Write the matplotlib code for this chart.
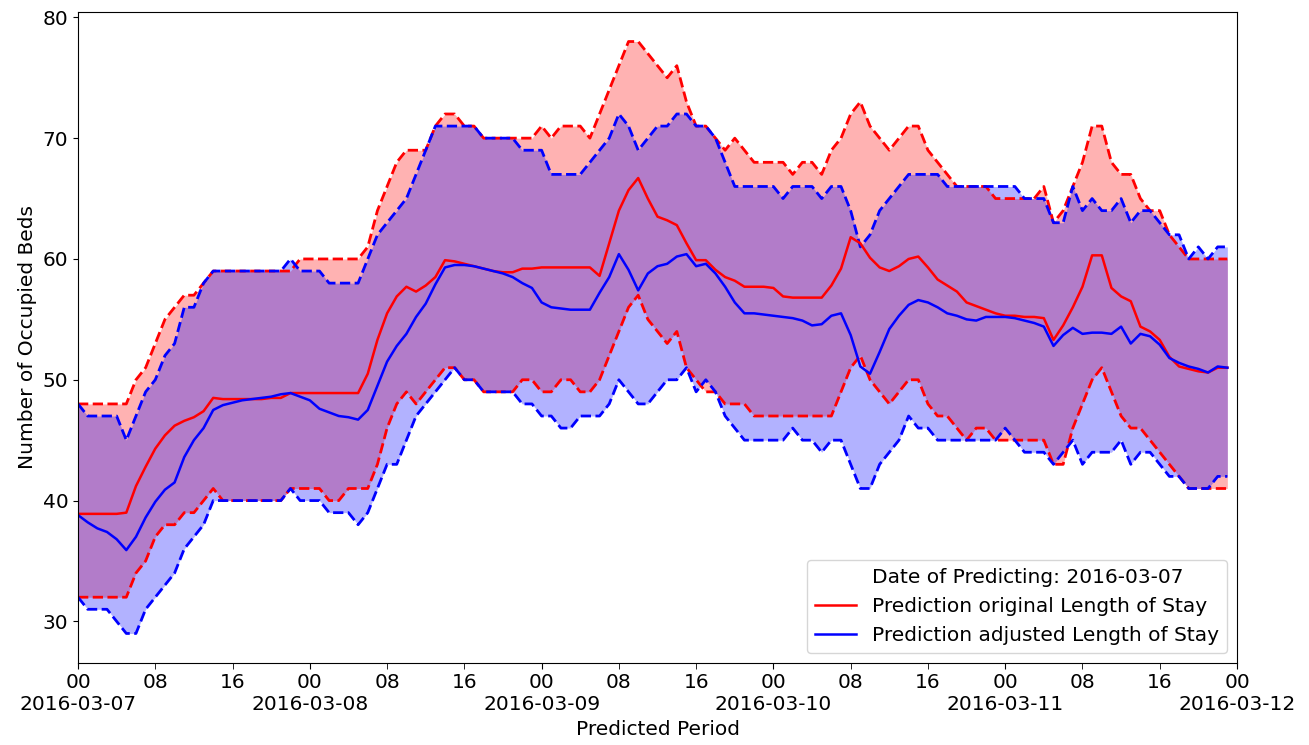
import numpy as np
import pandas as pd
import matplotlib
matplotlib.use("Agg")
import matplotlib.pyplot as plt
import matplotlib.dates as mdates

# hourly forecast window starting at the prediction date
start = "2016-03-07 00:00"
n_hours = 120

# original length of stay: median forecast and interval bounds
orig_upper = [48, 48, 48, 48, 48, 48, 50, 51, 53, 55, 56, 57, 57, 58, 59, 59, 59, 59, 59, 59,
              59, 59, 59, 60, 60, 60, 60, 60, 60, 60, 61, 64, 66, 68, 69, 69, 69, 71, 72, 72,
              71, 71, 70, 70, 70, 70, 70, 70, 71, 70, 71, 71, 71, 70, 72, 74, 76, 78, 78, 77,
              76, 75, 76, 73, 71, 71, 70, 69, 70, 69, 68, 68, 68, 68, 67, 68, 68, 67, 69, 70,
              72, 73, 71, 70, 69, 70, 71, 71, 69, 68, 67, 66, 66, 66, 66, 65, 65, 65, 65, 65,
              66, 63, 64, 66, 68, 71, 71, 68, 67, 67, 65, 64, 64, 62, 61, 60, 60, 60, 60, 60]
orig_mid = [38.9, 38.9, 38.9, 38.9, 38.9, 39.0, 41.2, 42.8, 44.3, 45.4, 46.2, 46.6, 46.9, 47.4, 48.5, 48.4, 48.4, 48.4, 48.4, 48.4,
            48.5, 48.5, 48.9, 48.9, 48.9, 48.9, 48.9, 48.9, 48.9, 48.9, 50.5, 53.3, 55.5, 56.9, 57.7, 57.3, 57.8, 58.5, 59.9, 59.8,
            59.6, 59.4, 59.2, 59.0, 58.9, 58.9, 59.2, 59.2, 59.3, 59.3, 59.3, 59.3, 59.3, 59.3, 58.6, 61.3, 64.0, 65.7, 66.7, 65.0,
            63.5, 63.2, 62.8, 61.3, 59.9, 59.9, 59.1, 58.5, 58.2, 57.7, 57.7, 57.7, 57.6, 56.9, 56.8, 56.8, 56.8, 56.8, 57.8, 59.2,
            61.8, 61.3, 60.1, 59.3, 59.0, 59.4, 60.0, 60.2, 59.3, 58.3, 57.8, 57.3, 56.4, 56.1, 55.8, 55.5, 55.3, 55.3, 55.2, 55.2,
            55.1, 53.3, 54.5, 56.0, 57.7, 60.3, 60.3, 57.6, 56.9, 56.5, 54.4, 54.0, 53.3, 51.9, 51.1, 50.9, 50.7, 50.6, 51.0, 51.0]
orig_lower = [32, 32, 32, 32, 32, 32, 34, 35, 37, 38, 38, 39, 39, 40, 41, 40, 40, 40, 40, 40,
              40, 40, 41, 41, 41, 41, 40, 40, 41, 41, 41, 43, 46, 48, 49, 48, 49, 50, 51, 51,
              50, 50, 49, 49, 49, 49, 50, 50, 49, 49, 50, 50, 49, 49, 50, 52, 54, 56, 57, 55,
              54, 53, 54, 51, 50, 49, 49, 48, 48, 48, 47, 47, 47, 47, 47, 47, 47, 47, 47, 49,
              51, 52, 50, 49, 48, 49, 50, 50, 48, 47, 47, 46, 45, 46, 46, 45, 45, 45, 45, 45,
              45, 43, 43, 46, 48, 50, 51, 49, 47, 46, 46, 45, 44, 43, 42, 41, 41, 41, 41, 41]

# adjusted length of stay: median forecast and interval bounds
adj_upper = [48, 47, 47, 47, 47, 45, 47, 49, 50, 52, 53, 56, 56, 58, 59, 59, 59, 59, 59, 59,
             59, 59, 60, 59, 59, 59, 58, 58, 58, 58, 60, 62, 63, 64, 65, 67, 69, 71, 71, 71,
             71, 71, 70, 70, 70, 70, 69, 69, 69, 67, 67, 67, 67, 68, 69, 70, 72, 71, 69, 70,
             71, 71, 72, 72, 71, 71, 70, 68, 66, 66, 66, 66, 66, 65, 66, 66, 66, 65, 66, 66,
             64, 61, 62, 64, 65, 66, 67, 67, 67, 67, 66, 66, 66, 66, 66, 66, 66, 66, 65, 65,
             65, 63, 63, 66, 64, 65, 64, 64, 65, 63, 64, 64, 63, 62, 62, 60, 61, 60, 61, 61]
adj_mid = [38.8, 38.2, 37.7, 37.4, 36.8, 35.9, 37.0, 38.6, 39.9, 40.9, 41.5, 43.6, 45.0, 46.0, 47.5, 47.9, 48.1, 48.3, 48.4, 48.5,
           48.6, 48.8, 48.9, 48.6, 48.3, 47.6, 47.3, 47.0, 46.9, 46.7, 47.5, 49.5, 51.5, 52.8, 53.8, 55.2, 56.3, 57.9, 59.3, 59.5,
           59.5, 59.4, 59.2, 59.0, 58.8, 58.5, 58.0, 57.6, 56.4, 56.0, 55.9, 55.8, 55.8, 55.8, 57.2, 58.5, 60.4, 59.1, 57.4, 58.8,
           59.4, 59.6, 60.2, 60.4, 59.4, 59.6, 58.8, 57.7, 56.4, 55.5, 55.5, 55.4, 55.3, 55.2, 55.1, 54.9, 54.5, 54.6, 55.3, 55.5,
           53.7, 51.1, 50.5, 52.3, 54.2, 55.3, 56.2, 56.6, 56.4, 56.0, 55.5, 55.3, 55.0, 54.9, 55.2, 55.2, 55.2, 55.1, 54.9, 54.7,
           54.4, 52.8, 53.7, 54.3, 53.8, 53.9, 53.9, 53.8, 54.4, 53.0, 53.8, 53.6, 52.9, 51.8, 51.4, 51.1, 50.9, 50.6, 51.1, 51.0]
adj_lower = [32, 31, 31, 31, 30, 29, 29, 31, 32, 33, 34, 36, 37, 38, 40, 40, 40, 40, 40, 40,
             40, 40, 41, 40, 40, 40, 39, 39, 39, 38, 39, 41, 43, 43, 45, 47, 48, 49, 50, 51,
             50, 50, 49, 49, 49, 49, 48, 48, 47, 47, 46, 46, 47, 47, 47, 48, 50, 49, 48, 48,
             49, 50, 50, 51, 49, 50, 49, 47, 46, 45, 45, 45, 45, 45, 46, 45, 45, 44, 45, 45,
             43, 41, 41, 43, 44, 45, 47, 46, 46, 45, 45, 45, 45, 45, 45, 45, 46, 45, 44, 44,
             44, 43, 44, 45, 43, 44, 44, 44, 45, 43, 44, 44, 43, 42, 42, 41, 41, 41, 42, 42]

prediction_date = "2016-03-07"

df = pd.DataFrame({
    'orig_upper': orig_upper, 'orig_mid': orig_mid, 'orig_lower': orig_lower,
    'adj_upper': adj_upper, 'adj_mid': adj_mid, 'adj_lower': adj_lower,
}, index=pd.date_range(start, periods=n_hours, freq='h'))

fs = 14.5
fig, ax = plt.subplots(figsize=(13.09, 7.45), dpi=100)
fig.subplots_adjust(left=0.0596, right=0.945, top=0.984, bottom=0.110)

t = df.index

# original LOS band
ax.fill_between(t, df['orig_lower'], df['orig_upper'], color='red', alpha=0.3, linewidth=0)
ax.plot(t, df['orig_upper'], color='red', linestyle='--', linewidth=2)
ax.plot(t, df['orig_lower'], color='red', linestyle='--', linewidth=2)

# adjusted LOS band
ax.fill_between(t, df['adj_lower'], df['adj_upper'], color='blue', alpha=0.3, linewidth=0)
ax.plot(t, df['adj_upper'], color='blue', linestyle='--', linewidth=2)
ax.plot(t, df['adj_lower'], color='blue', linestyle='--', linewidth=2)

ax.plot([], [], ' ', label=f"Date of Predicting: {prediction_date}")
ax.plot(t, df['orig_mid'], color='red', linewidth=1.8, label='Prediction original Length of Stay')
ax.plot(t, df['adj_mid'], color='blue', linewidth=1.8, label='Prediction adjusted Length of Stay')

ax.set_xlim(pd.Timestamp("2016-03-07"), pd.Timestamp("2016-03-12"))
ax.xaxis.set_major_locator(mdates.DayLocator())
ax.xaxis.set_major_formatter(mdates.DateFormatter('%H\n%Y-%m-%d'))
ax.xaxis.set_minor_locator(mdates.HourLocator(byhour=[8, 16]))
ax.xaxis.set_minor_formatter(mdates.DateFormatter('%H'))
ax.tick_params(axis='x', which='both', length=4, labelsize=fs)
ax.tick_params(axis='y', labelsize=fs)

ax.set_xlabel("Predicted Period", fontsize=fs)
ax.set_ylabel("Number of Occupied Beds", fontsize=fs)
ax.legend(loc='lower right', fontsize=fs)

fig.savefig("out.png", dpi=100)
